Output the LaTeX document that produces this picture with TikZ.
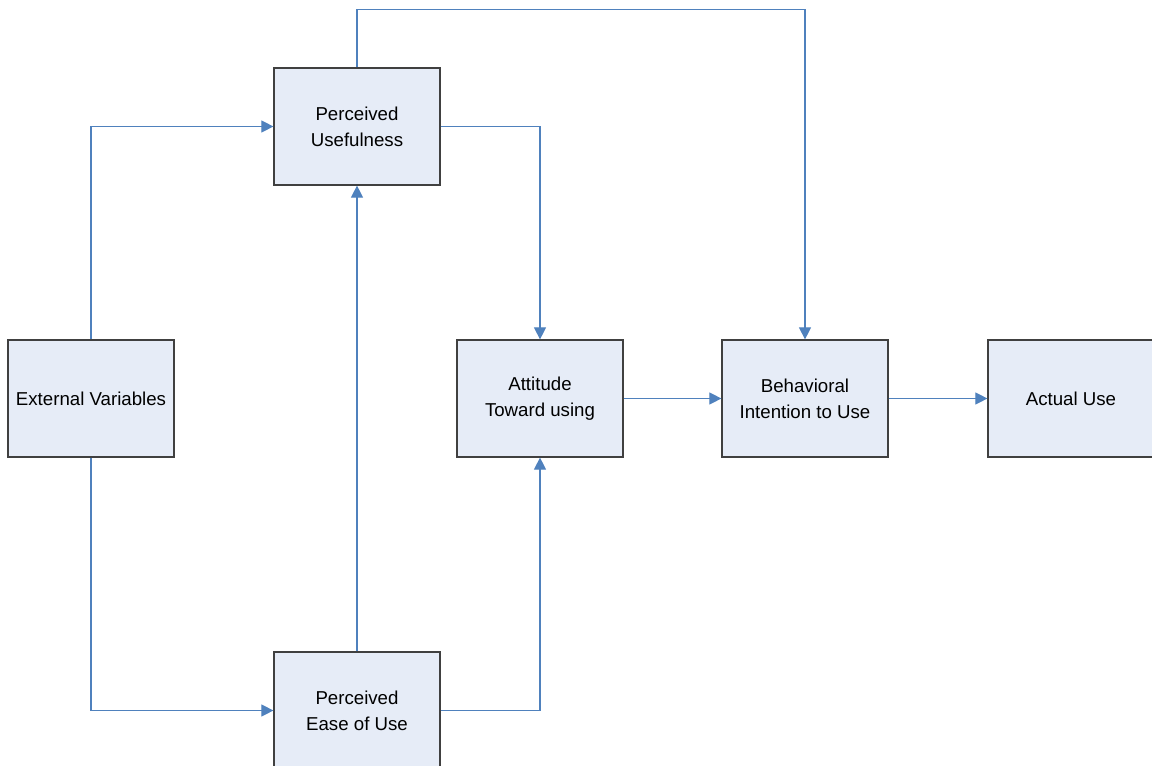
\documentclass[tikz,border=0pt]{standalone}
\usepackage{fontspec}
\setmainfont{Liberation Sans}
\usetikzlibrary{arrows.meta}
\definecolor{boxfill}{RGB}{230,236,247}
\definecolor{boxedge}{RGB}{64,64,64}
\definecolor{linkblue}{RGB}{79,129,189}
\tikzset{>={Triangle[length=9pt,width=9pt]}}

\begin{document}
\begin{tikzpicture}[x=0.75pt, y=-0.75pt,
    box/.style={draw=boxedge, fill=boxfill, line width=0.9pt, minimum width=124.5pt,
      minimum height=87.75pt, inner sep=0pt, align=center,
      font=\fontsize{14}{19.5}\selectfont},
    link/.style={draw=linkblue, line width=0.8pt, ->}]
    \useasboundingbox (0, 0) rectangle (1152, 766);
    \clip (0, 0) rectangle (1152, 766);
    % boxes
    \node[box] (pu) at (357, 126.5) {Perceived\\Usefulness};
    \node[box] (ev) at (91, 398.5) {External Variables};
    \node[box] (att) at (540, 398.5) {Attitude\\Toward using};
    \node[box] (bi) at (805, 398.5) {Behavioral\\Intention to Use};
    \node[box] (au) at (1071, 398.5) {Actual Use};
    \node[box] (peou) at (357, 710.5) {Perceived\\Ease of Use};
    % links
    \draw[link] (ev.north) |- (pu.west);
    \draw[link] (ev.south) |- (peou.west);
    \draw[link] (peou.north) -- (pu.south);
    \draw[link] (pu.east) -| (att.north);
    \draw[link] (peou.east) -| (att.south);
    \draw[link] (pu.north) -- ++(0, -58) -| (bi.north);
    \draw[link] (att) -- (bi);
    \draw[link] (bi) -- (au);
\end{tikzpicture}
\end{document}
